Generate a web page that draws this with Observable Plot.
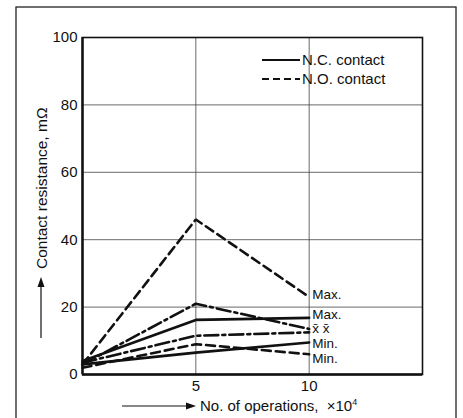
<!DOCTYPE html>
<html>
<head>
<meta charset="utf-8">
<script src="https://cdn.jsdelivr.net/npm/d3@7"></script>
<script src="https://cdn.jsdelivr.net/npm/@observablehq/plot@0.6"></script>
<style>
  html, body { margin: 0; padding: 0; background: #fff; }
  #chart { position: relative; width: 463px; height: 418px; overflow: hidden; }
</style>
</head>
<body>
<div id="chart"></div>
<script>
// Data
const operations = [0, 5, 10];            // x10^4
const ncMax  = [4, 16.2, 16.8];
const ncMean = [3.5, 11.5, 12.5];
const ncMin  = [3, 6.5, 9.5];
const noMax  = [3, 46, 23];
const noMean = [3, 21, 13.5];
const noMin  = [2, 9, 6];
const xTicks = [5, 10];
const yTicks = [0, 20, 40, 60, 80, 100];
const endLabels = ["Max.", "Max.", "x\u0304 x\u0304", "Min.", "Min."];
const endLabelY = [23.8, 17.9, 13.7, 9.1, 4.6];

const seriesDefs = [
  {name: "NC Max", values: ncMax, style: "solid"},
  {name: "NC Mean", values: ncMean, style: "dashdot"},
  {name: "NC Min", values: ncMin, style: "solid"},
  {name: "NO Max", values: noMax, style: "dashed"},
  {name: "NO Mean", values: noMean, style: "dashdot"},
  {name: "NO Min", values: noMin, style: "dashed"}
];
const dashFor = {solid: null, dashed: "9,5", dashdot: "14,4,3,4"};

const rows = seriesDefs.flatMap(s => operations.map((x, i) => ({series: s.name, style: s.style, x, y: s.values[i]})));
const labelRows = endLabels.map((t, i) => ({t, y: endLabelY[i]}));

const FONT = "'Liberation Sans', Arial, Helvetica, sans-serif";

const marks = [
  Plot.ruleX(xTicks, {stroke: "#444", strokeWidth: 0.8}),
  Plot.ruleY(yTicks.filter(v => v > 0 && v < 100), {stroke: "#444", strokeWidth: 0.8}),
  ...seriesDefs.map(s => Plot.line(rows.filter(r => r.series === s.name), {
    x: "x", y: "y", stroke: "#111", strokeWidth: 2.6,
    strokeDasharray: dashFor[s.style], strokeLinejoin: "miter"
  })),
  Plot.text(labelRows, {x: () => 10, y: "y", text: "t", textAnchor: "start", dx: 3,
    fontSize: 13.5, fill: "#111"}),
  Plot.frame({stroke: "#111", strokeWidth: 1.6}),
  Plot.ruleX([0], {stroke: "#111", strokeWidth: 2.4}),
  Plot.ruleY([0], {stroke: "#111", strokeWidth: 2.4}),
  Plot.axisY({ticks: yTicks, tickSize: 0, tickPadding: 5, fontSize: 15, label: null}),
  Plot.axisX({ticks: xTicks, tickSize: 0, tickPadding: 6, fontSize: 15, label: null})
];

const plot = Plot.plot({
  width: 463,
  height: 418,
  marginLeft: 82,
  marginRight: 41,
  marginTop: 37,
  marginBottom: 44,
  x: {domain: [0, 15]},
  y: {domain: [0, 100]},
  style: {fontFamily: FONT, fontSize: "15px", color: "#111", background: "white", overflow: "visible"},
  marks
});
document.getElementById("chart").appendChild(plot);

// Decorations: outer border, legend, axis titles
const svg = d3.select(plot);
svg.insert("rect", ":first-child")
  .attr("x", 16).attr("y", 7).attr("width", 440).attr("height", 430)
  .attr("fill", "none").attr("stroke", "#222").attr("stroke-width", 1.3);

const legendItems = [
  {label: "N.C. contact", dash: null, y: 60},
  {label: "N.O. contact", dash: "7,4", y: 79}
];
const lg = svg.append("g").attr("font-family", FONT).attr("font-size", 15)
  .attr("fill", "#111").attr("text-anchor", "start");
legendItems.forEach(d => {
  lg.append("line").attr("x1", 262).attr("x2", 300).attr("y1", d.y).attr("y2", d.y)
    .attr("stroke", "#111").attr("stroke-width", 2.2)
    .attr("stroke-dasharray", d.dash);
  lg.append("text").attr("x", 302).attr("y", d.y + 5).attr("text-anchor", "start").text(d.label);
});

// Y axis title with arrow
const ya = svg.append("g").attr("font-family", FONT).attr("fill", "#111");
ya.append("line").attr("x1", 41).attr("x2", 41).attr("y1", 338).attr("y2", 283)
  .attr("stroke", "#111").attr("stroke-width", 1.2);
ya.append("path").attr("d", "M41,277 L37.5,287 L44.5,287 Z").attr("fill", "#111");
ya.append("text").attr("transform", "translate(47,269) rotate(-90)")
  .attr("text-anchor", "start").attr("font-size", 15.5).text("Contact resistance, m\u03A9");

// X axis title with arrow
const xa = svg.append("g").attr("font-family", FONT).attr("fill", "#111");
xa.append("line").attr("x1", 122).attr("x2", 188).attr("y1", 406).attr("y2", 406)
  .attr("stroke", "#111").attr("stroke-width", 1.2);
xa.append("path").attr("d", "M196,406 L186,402.5 L186,409.5 Z").attr("fill", "#111");
const xt = xa.append("text").attr("x", 200).attr("y", 411).attr("font-size", 15)
  .attr("text-anchor", "start");
xt.append("tspan").text("No. of operations,  \u00D710");
xt.append("tspan").attr("dy", -6).attr("font-size", 9).text("4");
</script>
</body>
</html>
